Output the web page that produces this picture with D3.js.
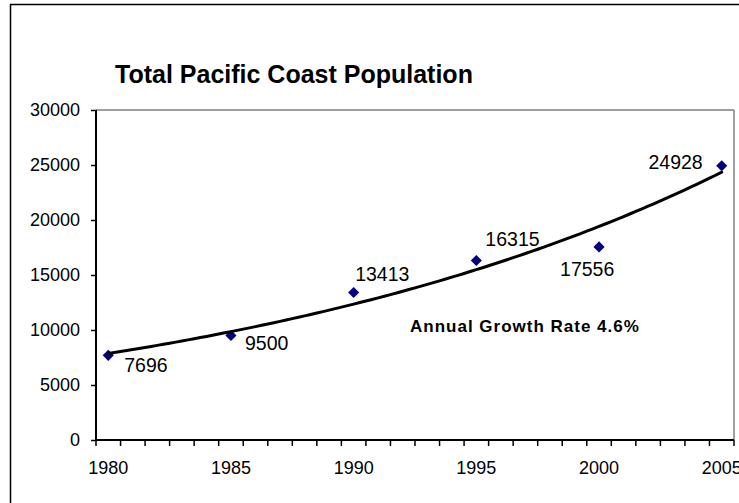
<!DOCTYPE html>
<html>
<head>
<meta charset="utf-8">
<script src="https://cdn.jsdelivr.net/npm/d3@7"></script>
<style>
  html, body { margin: 0; padding: 0; background: #fff; }
  svg { display: block; font-family: "Liberation Sans", Arial, sans-serif; }
</style>
</head>
<body>
<svg id="chart" width="739" height="503"></svg>
<script>
// ---- data ----
const years = d3.range(1980, 2006);               // category axis
const pointYears = [1980, 1985, 1990, 1995, 2000, 2005];
const population = [7696, 9500, 13413, 16315, 17556, 24928];
const yTicks = [0, 5000, 10000, 15000, 20000, 25000, 30000];
const xTickLabels = [1980, 1985, 1990, 1995, 2000, 2005];
const title = "Total Pacific Coast Population";
const annotation = "Annual Growth Rate 4.6%";

// ---- layout (kept separate from data) ----
const labelLayout = [
  { anchor: "start", dx: 16, dy: 17 },
  { anchor: "start", dx: 14, dy: 14 },
  { anchor: "start", dx: 1.5, dy: -11 },
  { anchor: "start", dx: 9, dy: -15 },
  { anchor: "start", dx: -39, dy: 29 },
  { anchor: "end", dx: -19, dy: 3 }
];

const svg = d3.select("#chart");
const plot = { left: 96, right: 734, top: 110, bottom: 440 };

// outer frame
svg.append("rect")
  .attr("x", 10.5).attr("y", 4.5)
  .attr("width", 760).attr("height", 520)
  .attr("fill", "#fff").attr("stroke", "#000").attr("stroke-width", 1.5);

const x = d3.scaleBand().domain(years).range([plot.left, plot.right]).paddingInner(0).paddingOuter(0);
const xc = yr => x(yr) + x.bandwidth() / 2;
const xLin = d3.scaleLinear().domain([1980, 2005]).range([xc(1980), xc(2005)]);
const y = d3.scaleLinear().domain([0, 30000]).range([plot.bottom, plot.top]);

// plot area border (top & right grey)
svg.append("line").attr("x1", plot.left).attr("x2", plot.right)
  .attr("y1", plot.top).attr("y2", plot.top)
  .attr("stroke", "#808080").attr("stroke-width", 1.5);
svg.append("line").attr("x1", plot.right).attr("x2", plot.right)
  .attr("y1", plot.top).attr("y2", plot.bottom)
  .attr("stroke", "#808080").attr("stroke-width", 1.5);

// title
svg.append("text")
  .attr("x", 115).attr("y", 82.5)
  .attr("font-size", 25).attr("font-weight", "bold").attr("fill", "#000")
  .text(title);

// y axis
const yAxis = d3.axisLeft(y).tickValues(yTicks).tickSize(5).tickPadding(0).tickFormat(d3.format("d"));
const gy = svg.append("g").attr("transform", `translate(${plot.left},0)`).call(yAxis);
gy.select(".domain").remove();
gy.selectAll(".tick line").attr("stroke", "#000").attr("stroke-width", 1.5);
gy.selectAll(".tick text")
  .attr("x", -16).attr("dy", null).attr("y", 5.5)
  .attr("font-size", 18).attr("fill", "#000")
  .attr("font-family", "Liberation Sans, Arial, sans-serif");
svg.append("line").attr("x1", plot.left).attr("x2", plot.left)
  .attr("y1", plot.top).attr("y2", plot.bottom + 1)
  .attr("stroke", "#000").attr("stroke-width", 2);

// x axis: ticks at category boundaries, labels at centers
const boundaries = years.map(d => x(d)).concat([plot.right]);
const gx = svg.append("g");
gx.selectAll("line.tick").data(boundaries).join("line")
  .attr("class", "tick")
  .attr("x1", d => d).attr("x2", d => d)
  .attr("y1", plot.bottom).attr("y2", plot.bottom + 6)
  .attr("stroke", "#000").attr("stroke-width", 1.5);
svg.append("line").attr("x1", plot.left - 1).attr("x2", plot.right)
  .attr("y1", plot.bottom).attr("y2", plot.bottom)
  .attr("stroke", "#000").attr("stroke-width", 2);
gx.selectAll("text").data(xTickLabels).join("text")
  .attr("x", d => xc(d)).attr("y", 474)
  .attr("text-anchor", "middle").attr("font-size", 18).attr("fill", "#000")
  .text(d => d);

// data points
const pts = pointYears.map((yr, i) => ({ yr, v: population[i], i }));
svg.append("g").selectAll("path").data(pts).join("path")
  .attr("d", d3.symbol(d3.symbolSquare, 62)())
  .attr("transform", d => `translate(${xc(d.yr)},${y(d.v)}) rotate(45)`)
  .attr("fill", "#000080");

// exponential trendline (least squares on ln values)
const ts = pointYears.map(yr => yr - 1980);
const ln = population.map(v => Math.log(v));
const tm = d3.mean(ts), lm = d3.mean(ln);
const b = d3.sum(ts, (t, i) => (t - tm) * (ln[i] - lm)) / d3.sum(ts, t => (t - tm) * (t - tm));
const a = lm - b * tm;
const trend = d3.range(0, 25.01, 0.25).map(t => ({ yr: 1980 + t, v: Math.exp(a + b * t) }));
svg.append("path")
  .datum(trend)
  .attr("d", d3.line().x(d => xLin(d.yr)).y(d => y(d.v)))
  .attr("fill", "none").attr("stroke", "#000").attr("stroke-width", 3)
  .attr("stroke-linecap", "round");

// data labels
svg.append("g").selectAll("text").data(pts).join("text")
  .attr("x", d => xc(d.yr) + labelLayout[d.i].dx)
  .attr("y", d => y(d.v) + labelLayout[d.i].dy)
  .attr("text-anchor", d => labelLayout[d.i].anchor)
  .attr("font-size", 19.5).attr("fill", "#000")
  .text(d => d.v);

// annotation
svg.append("text")
  .attr("x", 410).attr("y", 332)
  .attr("font-size", 17).attr("font-weight", "bold").attr("letter-spacing", 1)
  .attr("fill", "#000")
  .text(annotation);
</script>
</body>
</html>
